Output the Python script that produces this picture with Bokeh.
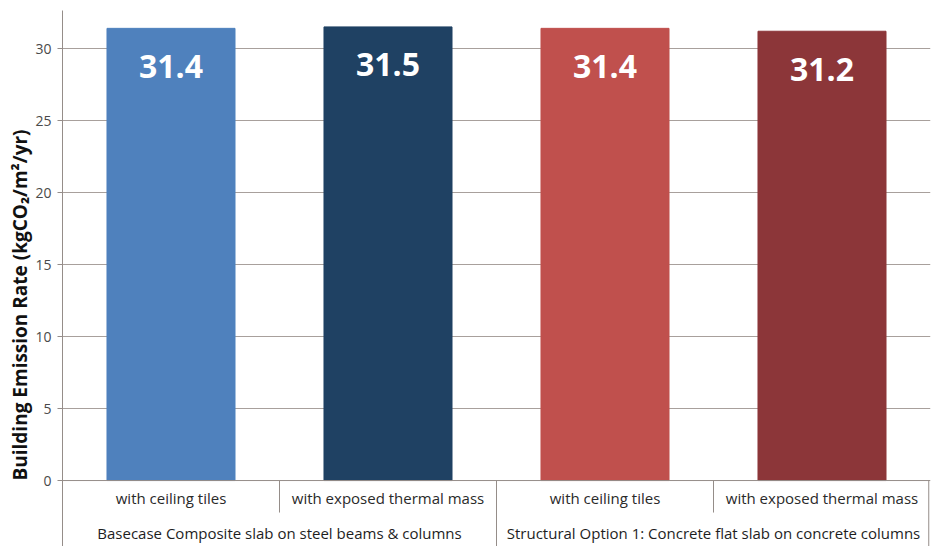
from bokeh.plotting import figure
from bokeh.models import Range1d, FixedTicker, Title, ColumnDataSource
from bokeh.core.properties import value
from bokeh.embed import file_html
from bokeh.resources import INLINE

# --- data -----------------------------------------------------------------
sub_labels = ["with ceiling tiles", "with exposed thermal mass",
              "with ceiling tiles", "with exposed thermal mass"]
group_labels = ["Basecase Composite slab on steel beams & columns",
                "Structural Option 1: Concrete flat slab on concrete columns"]
group_sizes = [2, 2]
emission_rates = [31.4, 31.5, 31.4, 31.2]
bar_colors = ["#4F81BD", "#1F4163", "#C0504D", "#8C3639"]
y_ticks = [0, 5, 10, 15, 20, 25, 30]
y_title = "Building Emission Rate (kgCO\u2082/m\u00b2/yr)"

# --- layout ---------------------------------------------------------------
W, H = 933, 546
LEFT, RIGHT, TOP, BOTTOM = 62, 3, 10, 0
Y_MIN, Y_MAX = -4.58, 32.64
frame_h = H - TOP - BOTTOM
PX = frame_h / (Y_MAX - Y_MIN)          # pixels per data unit


def px_below_zero(px):
    return -px / PX


FONT = "Open Sans"
GRID = "#A8A09C"
AXIS = "#958D89"

n = len(emission_rates)
p = figure(width=W, height=H, output_backend="svg", toolbar_location=None,
           x_range=Range1d(0, n), y_range=Range1d(Y_MIN, Y_MAX),
           min_border_left=LEFT, min_border_right=RIGHT,
           min_border_top=TOP, min_border_bottom=BOTTOM)
p.outline_line_color = None
p.background_fill_color = "white"
p.border_fill_color = "white"

# axes
p.xaxis.visible = False
p.xgrid.visible = False
p.yaxis.ticker = FixedTicker(ticks=y_ticks)
p.yaxis.minor_tick_line_color = None
p.yaxis.major_tick_out = 5
p.yaxis.major_tick_in = 0
p.yaxis.major_tick_line_color = AXIS
p.yaxis.axis_line_color = AXIS
p.yaxis.major_label_text_font = FONT
p.yaxis.major_label_text_font_size = "14px"
p.yaxis.major_label_text_color = "#4A4A4A"
p.yaxis.major_label_standoff = 6
p.ygrid.ticker = FixedTicker(ticks=y_ticks[1:])
p.ygrid.grid_line_color = GRID

# bars
xs = [i + 0.5 for i in range(n)]
src = ColumnDataSource(dict(x=xs, top=emission_rates, color=bar_colors,
                            label=[f"{v:.1f}" for v in emission_rates],
                            label_y=[v - 38 / PX for v in emission_rates]))
p.vbar(x="x", top="top", width=0.59, bottom=0, color="color", source=src)
p.text(x="x", y="label_y", text="label", source=src,
       text_color="white", text_font=value(FONT), text_font_style="bold",
       text_font_size="32px", text_align="center", text_baseline="middle")

# category table below the zero line
p.segment(x0=[0], y0=[0], x1=[n], y1=[0], line_color=AXIS, line_width=1)
sub_bottom = px_below_zero(32)
p.text(x=xs, y=[px_below_zero(17)] * n, text=sub_labels,
       text_font=value(FONT), text_font_size="15px", text_color="#2A2A2A",
       text_align="center", text_baseline="middle")

edges = [0]
for s in group_sizes:
    edges.append(edges[-1] + s)
group_x = [(a + b) / 2 for a, b in zip(edges[:-1], edges[1:])]
p.text(x=group_x, y=[px_below_zero(52)] * len(group_labels), text=group_labels,
       text_font=value(FONT), text_font_size="15px", text_color="#1E1E1E",
       text_align="center", text_baseline="middle")

# separators: short ones between sub-categories, long ones between groups
sub_seps = [i for i in range(1, n) if i not in edges]
p.segment(x0=sub_seps, y0=[0] * len(sub_seps), x1=sub_seps,
          y1=[sub_bottom] * len(sub_seps), line_color=AXIS)
grp_seps = [e if e < n else n - 0.008 for e in edges[1:]]
p.segment(x0=grp_seps, y0=[0] * len(grp_seps), x1=grp_seps,
          y1=[Y_MIN] * len(grp_seps), line_color=AXIS)

# y-axis title, starting a little above the bottom of the frame
p.add_layout(Title(text=y_title, align="left", offset=66, standoff=0,
                   text_font=FONT, text_font_style="bold",
                   text_font_size="19px", text_color="#111111"), "left")

open("out.html", "w").write(file_html(p, INLINE))
